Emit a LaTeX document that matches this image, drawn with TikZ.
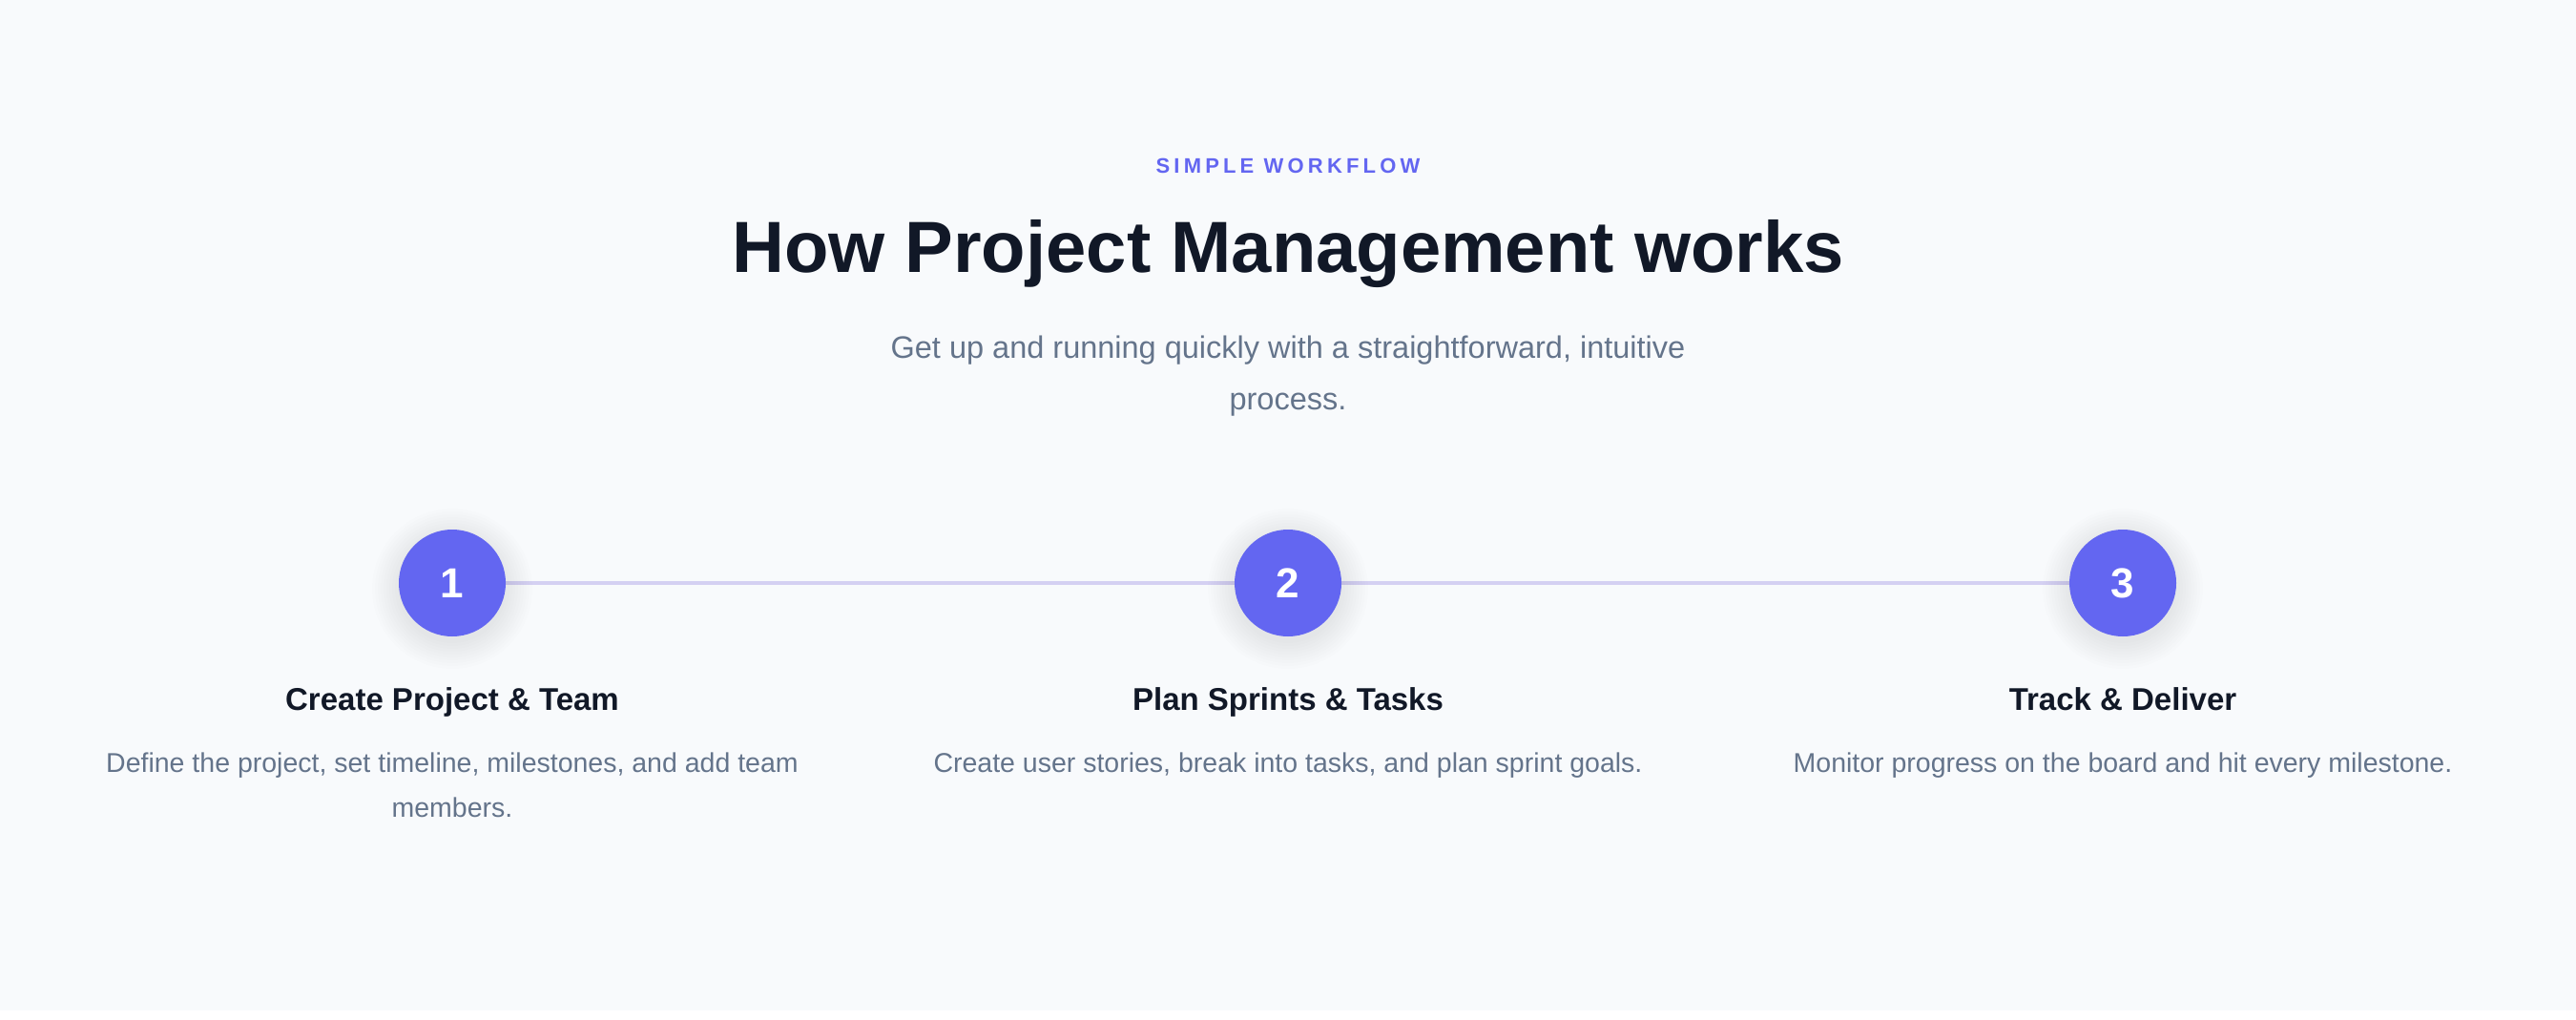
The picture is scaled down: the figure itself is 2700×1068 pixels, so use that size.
\documentclass[tikz,border=0pt]{standalone}
\usepackage{fontspec}
\setmainfont{Liberation Sans}
\definecolor{bgc}{HTML}{F8FAFC}
\definecolor{indigo}{HTML}{6366F1}
\definecolor{ink}{HTML}{111827}
\definecolor{slate}{HTML}{64748B}
\definecolor{track}{RGB}{212,208,242}
\tikzset{
  stepcircle/.style={circle, fill=indigo, minimum size=112pt, inner sep=0pt,
    text=white, font=\fontsize{44}{44}\selectfont\bfseries},
  steptitle/.style={anchor=base, text=ink, font=\fontsize{33}{36}\selectfont\bfseries, inner sep=0pt},
  stepdesc/.style={anchor=base, text=slate, font=\fontsize{28.5}{32}\selectfont, inner sep=0pt},
  trackline/.style={draw=track, line width=4.5pt}
}
\begin{document}
\begin{tikzpicture}[x=1pt,y=-1pt]
\fill[bgc] (0,0) rectangle (2700,1059);
\fill[white] (0,1059) rectangle (2700,1068);
\useasboundingbox (0,0) rectangle (2700,1068);

\node[anchor=base, inner sep=0pt, text=indigo, font=\fontsize{22}{24}\selectfont\bfseries\addfontfeatures{LetterSpace=19}] (eyebrow) at (1350,181) {SIMPLE WORKFLOW};
\node[anchor=base, inner sep=0pt, text=ink, font=\fontsize{76}{80}\selectfont\bfseries] (title) at (1350,285) {How Project Management works};
\node[anchor=base, inner sep=0pt, text=slate, font=\fontsize{32.5}{36}\selectfont] (sub1) at (1350,375) {Get up and running quickly with a straightforward, intuitive};
\node[anchor=base, inner sep=0pt, text=slate, font=\fontsize{32.5}{36}\selectfont] (sub2) at (1350,429) {process.};

\coordinate (p1) at (474,611);
\coordinate (p2) at (1350,611);
\coordinate (p3) at (2225,611);
\draw[trackline] (p1) -- (p2);
\draw[trackline] (p2) -- (p3);

% soft shadows
\foreach \p in {p1,p2,p3}{
  \foreach \r in {84,81,...,57}{
    \fill[black, opacity=0.007] ([yshift=-6pt]\p) circle (\r pt);
  }
}

\node[stepcircle] (c1) at (p1) {1};
\node[stepcircle] (c2) at (p2) {2};
\node[stepcircle] (c3) at (p3) {3};

\node[steptitle] (t1) at (474,744) {Create Project \& Team};
\node[steptitle] (t2) at (1350,744) {Plan Sprints \& Tasks};
\node[steptitle] (t3) at (2225,744) {Track \& Deliver};

\node[stepdesc] (d1a) at (474,809) {Define the project, set timeline, milestones, and add team};
\node[stepdesc] (d1b) at (474,856) {members.};
\node[stepdesc] (d2) at (1350,809) {Create user stories, break into tasks, and plan sprint goals.};
\node[stepdesc] (d3) at (2225,809) {Monitor progress on the board and hit every milestone.};
\end{tikzpicture}
\end{document}
